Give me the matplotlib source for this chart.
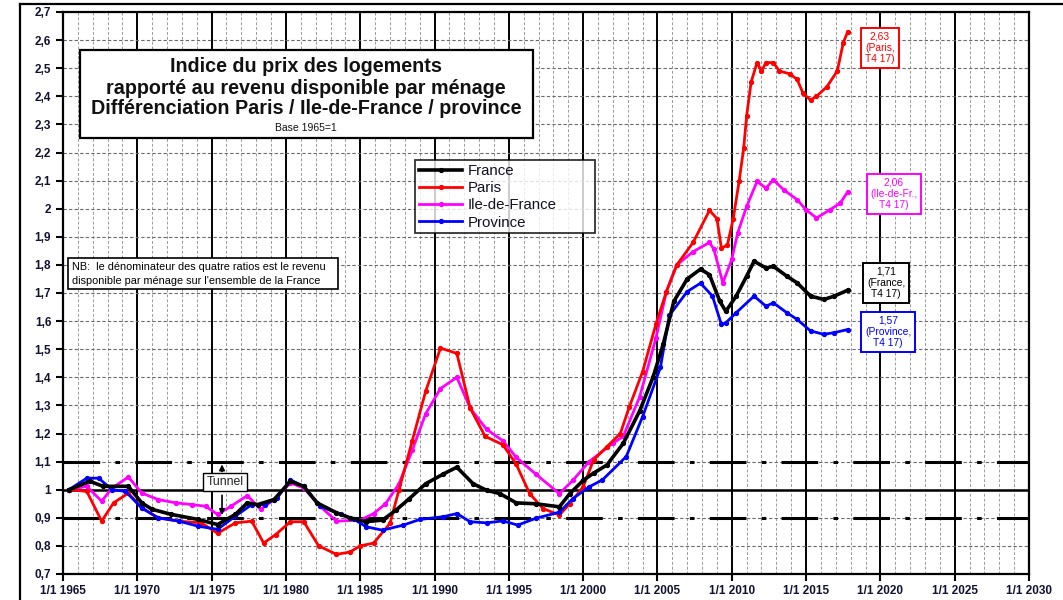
import matplotlib
matplotlib.use("Agg")
import matplotlib.pyplot as plt
from matplotlib.patches import Rectangle
from matplotlib.lines import Line2D
from matplotlib.ticker import MultipleLocator, FixedLocator, FuncFormatter

plt.rcParams['font.family'] = ['Liberation Sans', 'DejaVu Sans']

# ---------------- data ----------------
france_x = [1965.4, 1966.8, 1967.7, 1969.4, 1970.3, 1971.0, 1972.3, 1974.1, 1975.4, 1976.6,
            1977.4, 1978.1, 1979.2, 1980.3, 1981.2, 1982.1, 1983.4, 1984.3, 1985.4, 1986.5,
            1987.4, 1988.3, 1989.4, 1990.6, 1991.5, 1992.6, 1993.5, 1994.4, 1995.5, 1996.8,
            1998.4, 1999.1, 2000.0, 2000.7, 2001.6, 2002.7, 2003.8, 2004.7, 2005.4, 2006.1,
            2007.0, 2007.9, 2008.5, 2009.2, 2009.6, 2010.3, 2011.0, 2011.5, 2012.3, 2012.8,
            2013.7, 2014.4, 2015.3, 2016.2, 2016.9, 2017.8]
france_y = [1.00, 1.03, 1.012, 1.012, 0.953, 0.93, 0.912, 0.894, 0.876, 0.912,
            0.953, 0.947, 0.965, 1.03, 1.012, 0.953, 0.918, 0.90, 0.886, 0.892,
            0.927, 0.968, 1.021, 1.056, 1.08, 1.021, 0.998, 0.986, 0.953, 0.95,
            0.939, 0.986, 1.033, 1.059, 1.088, 1.165, 1.28, 1.40, 1.52, 1.67,
            1.75, 1.785, 1.765, 1.67, 1.635, 1.689, 1.76, 1.813, 1.789, 1.795,
            1.76, 1.736, 1.689, 1.677, 1.689, 1.71]

paris_x = [1965.4, 1966.6, 1967.6, 1968.4, 1969.4, 1970.3, 1971.4, 1972.8, 1974.3, 1975.4,
           1976.6, 1977.7, 1978.5, 1979.3, 1980.3, 1981.2, 1982.2, 1983.4, 1984.3, 1985.0,
           1985.9, 1987.0, 1987.6, 1988.5, 1989.4, 1990.4, 1991.5, 1992.4, 1993.4, 1994.6,
           1995.5, 1996.4, 1997.3, 1998.4, 1999.1, 2000.0, 2000.7, 2001.6, 2002.5, 2003.1,
           2004.0, 2004.9, 2005.6, 2006.3, 2007.4, 2008.5, 2009.0, 2009.3, 2009.7, 2010.1,
           2010.5, 2010.8, 2011.0, 2011.3, 2011.7, 2012.0, 2012.3, 2012.8, 2013.2, 2013.9,
           2014.4, 2014.8, 2015.3, 2015.7, 2016.4, 2017.1, 2017.5, 2017.8]
paris_y = [1.00, 0.994, 0.888, 0.953, 0.988, 0.935, 0.90, 0.888, 0.882, 0.845,
           0.882, 0.888, 0.81, 0.84, 0.886, 0.886, 0.80, 0.77, 0.778, 0.80,
           0.81, 0.88, 0.998, 1.174, 1.35, 1.504, 1.485, 1.29, 1.19, 1.16,
           1.09, 0.986, 0.933, 0.91, 0.95, 1.01, 1.106, 1.153, 1.20, 1.294,
           1.42, 1.59, 1.705, 1.80, 1.88, 1.994, 1.965, 1.86, 1.87, 1.965,
           2.10, 2.215, 2.33, 2.45, 2.52, 2.49, 2.52, 2.52, 2.49, 2.48,
           2.46, 2.41, 2.387, 2.40, 2.434, 2.49, 2.59, 2.63]

idf_x = [1965.4, 1966.6, 1967.6, 1968.3, 1969.4, 1970.3, 1971.4, 1972.6, 1973.7, 1974.6,
         1975.4, 1976.3, 1977.4, 1978.3, 1979.2, 1980.3, 1981.2, 1982.3, 1983.4, 1985.0,
         1985.9, 1986.7, 1987.6, 1988.5, 1989.4, 1990.4, 1991.5, 1992.4, 1993.5, 1994.6,
         1995.5, 1996.8, 1998.4, 1999.3, 2000.4, 2002.0, 2002.7, 2003.8, 2004.9, 2005.6,
         2006.3, 2007.4, 2008.5, 2008.8, 2009.4, 2010.0, 2010.4, 2011.0, 2011.7, 2012.3,
         2012.8, 2013.5, 2014.4, 2015.0, 2015.7, 2016.6, 2017.3, 2017.8]
idf_y = [1.00, 1.012, 0.959, 1.006, 1.045, 0.988, 0.965, 0.953, 0.947, 0.941,
         0.912, 0.941, 0.979, 0.93, 0.965, 1.024, 1.006, 0.941, 0.888, 0.892,
         0.915, 0.95, 1.02, 1.14, 1.27, 1.36, 1.40, 1.29, 1.215, 1.174,
         1.115, 1.056, 0.986, 1.033, 1.10, 1.165, 1.19, 1.33, 1.54, 1.705,
         1.80, 1.847, 1.88, 1.855, 1.736, 1.82, 1.914, 2.008, 2.097, 2.073,
         2.103, 2.067, 2.032, 1.996, 1.967, 1.996, 2.02, 2.06]

prov_x = [1965.4, 1966.6, 1967.4, 1968.3, 1969.2, 1970.3, 1971.4, 1972.8, 1974.1, 1975.4,
          1976.6, 1977.7, 1978.6, 1979.4, 1980.3, 1981.2, 1982.3, 1983.7, 1984.6, 1985.4,
          1986.5, 1987.9, 1989.0, 1990.6, 1991.5, 1992.4, 1993.5, 1994.6, 1995.6, 1996.8,
          1998.4, 1999.3, 2000.4, 2001.3, 2002.9, 2004.0, 2005.2, 2005.8, 2007.0, 2007.9,
          2008.7, 2009.3, 2009.6, 2010.3, 2011.5, 2012.3, 2012.8, 2013.7, 2014.4, 2015.3,
          2016.2, 2016.9, 2017.8]
prov_y = [1.00, 1.041, 1.041, 1.00, 0.994, 0.935, 0.90, 0.888, 0.87, 0.859,
          0.906, 0.947, 0.947, 0.97, 1.035, 1.012, 0.941, 0.912, 0.894, 0.868,
          0.856, 0.874, 0.894, 0.904, 0.915, 0.886, 0.882, 0.889, 0.874, 0.898,
          0.92, 0.968, 1.01, 1.035, 1.118, 1.26, 1.435, 1.62, 1.705, 1.735,
          1.689, 1.588, 1.594, 1.63, 1.689, 1.653, 1.665, 1.63, 1.606, 1.565,
          1.553, 1.559, 1.57]

series_names = ["France", "Paris", "Ile-de-France", "Province"]
series_colors = ["#000000", "#FF0000", "#FF00FF", "#0000FF"]

year_ticks = list(range(1965, 2031, 5))
year_labels = ["1/1 %d" % y for y in year_ticks]

end_labels = ["1,71\n(France,\nT4 17)", "2,63\n(Paris,\nT4 17)",
              "2,06\n(Ile-de-Fr.,\nT4 17)", "1,57\n(Province,\nT4 17)"]

# ---------------- figure ----------------
W, H = 1063, 600
fig = plt.figure(figsize=(W / 100, H / 100), dpi=100)
fig.patch.set_facecolor("white")

AX_L, AX_R, AX_T, AX_B = 63, 1029, 12, 574
ax = fig.add_axes([AX_L / W, 1 - AX_B / H, (AX_R - AX_L) / W, (AX_B - AX_T) / H])
ax.set_xlim(1965, 2030)
ax.set_ylim(0.7, 2.7)

def px2ax(x, y):
    return (x - AX_L) / (AX_R - AX_L), (AX_B - y) / (AX_B - AX_T)

# grid
ax.xaxis.set_major_locator(FixedLocator(year_ticks))
ax.xaxis.set_minor_locator(MultipleLocator(1))
ax.yaxis.set_major_locator(MultipleLocator(0.1))
ax.grid(which="minor", axis="x", color="#9a9a9a", ls=(0, (3, 2)), lw=0.7)
ax.grid(which="major", axis="x", color="black", ls="-", lw=1.4)
ax.grid(which="major", axis="y", color="#6a6a6a", ls=(0, (3, 2)), lw=0.8)
ax.set_axisbelow(True)

# reference lines
ax.axhline(1.0, color="black", lw=1.8, zorder=2)
for lvl in (0.9, 1.1):
    ax.axhline(lvl, color="black", lw=2.2, ls=(0, (12, 5, 1.5, 5)), zorder=2)

# series
all_series = [(france_x, france_y), (paris_x, paris_y), (idf_x, idf_y), (prov_x, prov_y)]
widths = [2.6, 2.0, 2.0, 2.0]
zorders = [6, 5, 4, 5]
for (xs, ys), name, col, lw, zo in zip(all_series, series_names, series_colors, widths, zorders):
    ax.plot(xs, ys, color=col, lw=lw, marker="o", ms=2.8, label=name, zorder=zo)

# ticks
ax.set_xticks(year_ticks)
ax.set_xticklabels(year_labels)
ax.yaxis.set_major_formatter(FuncFormatter(
    lambda v, p: ("%g" % round(v, 1)).replace(".", ",")))
ax.tick_params(axis="both", which="major", direction="out", length=5, width=1.5,
               labelsize=8.5, labelcolor="#111133")
ax.tick_params(axis="x", which="minor", length=0)
for lab in ax.get_xticklabels() + ax.get_yticklabels():
    lab.set_fontweight("bold")
ax.tick_params(axis="x", pad=3)
for sp in ax.spines.values():
    sp.set_linewidth(1.6)

# title box
x0, y0 = px2ax(80, 138)
x1, y1 = px2ax(533, 50)
ax.add_patch(Rectangle((x0, y0), x1 - x0, y1 - y0, transform=ax.transAxes,
                       facecolor="white", edgecolor="black", lw=1.6, zorder=8))
title_lines = [("Indice du prix des logements", 67, 14.2),
               ("rapporté au revenu disponible par ménage", 88, 14.2),
               ("Différenciation Paris / Ile-de-France / province", 108, 14.2)]
for txt, yy, fs in title_lines:
    ax.text(*px2ax(306, yy), txt, transform=ax.transAxes, ha="center", va="center",
            fontsize=fs, fontweight="bold", color="#111111", zorder=9)
ax.text(*px2ax(306, 128), "Base 1965=1", transform=ax.transAxes, ha="center",
        va="center", fontsize=7.5, color="#111111", zorder=9)

# NB box
x0, y0 = px2ax(68, 289)
x1, y1 = px2ax(338, 258)
ax.add_patch(Rectangle((x0, y0), x1 - x0, y1 - y0, transform=ax.transAxes,
                       facecolor="white", edgecolor="black", lw=1.2, zorder=8))
ax.text(*px2ax(72, 267), "NB:  le dénominateur des quatre ratios est le revenu",
        transform=ax.transAxes, ha="left", va="center", fontsize=7.8, zorder=9)
ax.text(*px2ax(72, 281), "disponible par ménage sur l'ensemble de la France",
        transform=ax.transAxes, ha="left", va="center", fontsize=7.8, zorder=9)

# legend
lx0, ly0 = px2ax(415, 228)
lx1, ly1 = px2ax(595, 160)
leg = ax.legend(loc="upper left", bbox_to_anchor=(lx0, ly0, lx1 - lx0, ly1 - ly0),
                mode="expand", frameon=True, fancybox=False, edgecolor="black",
                fontsize=10.8, handlelength=2.9, borderpad=0.25, labelspacing=0.22,
                handletextpad=0.35, borderaxespad=0)
leg.get_frame().set_linewidth(1.3)
leg.set_zorder(10)
for t in leg.get_texts():
    t.set_color("#111122")

# Tunnel annotation
ax.annotate("", xy=(1975.7, 1.1), xytext=(1975.7, 1.055),
            arrowprops=dict(arrowstyle="-|>", color="black", lw=1.2, mutation_scale=8), zorder=7)
ax.annotate("", xy=(1975.7, 0.9), xytext=(1975.7, 0.99),
            arrowprops=dict(arrowstyle="-|>", color="black", lw=1.2, mutation_scale=8), zorder=7)
ax.text(1975.9, 1.028, "Tunnel", ha="center", va="center", fontsize=8.8, color="#222222",
        bbox=dict(boxstyle="square,pad=0.25", facecolor="white", edgecolor="black", lw=1.0),
        zorder=8)

# end value boxes
end_pos = [(886, 283), (880, 48), (894, 194), (888, 332)]
for txt, (px, py), col in zip(end_labels, end_pos, series_colors):
    ax.text(*px2ax(px, py), txt, transform=ax.transAxes, ha="center", va="center",
            fontsize=7.4, color=col, linespacing=1.15,
            bbox=dict(boxstyle="square,pad=0.35", facecolor="white", edgecolor=col, lw=1.4),
            zorder=9)

# outer frame lines
fig.add_artist(Line2D([20 / W, 20 / W], [0, 1 - 4 / H], transform=fig.transFigure,
                      color="black", lw=1.6))
fig.add_artist(Line2D([20 / W, 1], [1 - 4 / H, 1 - 4 / H], transform=fig.transFigure,
                      color="black", lw=1.6))

fig.savefig("out.png", dpi=100, facecolor="white")
